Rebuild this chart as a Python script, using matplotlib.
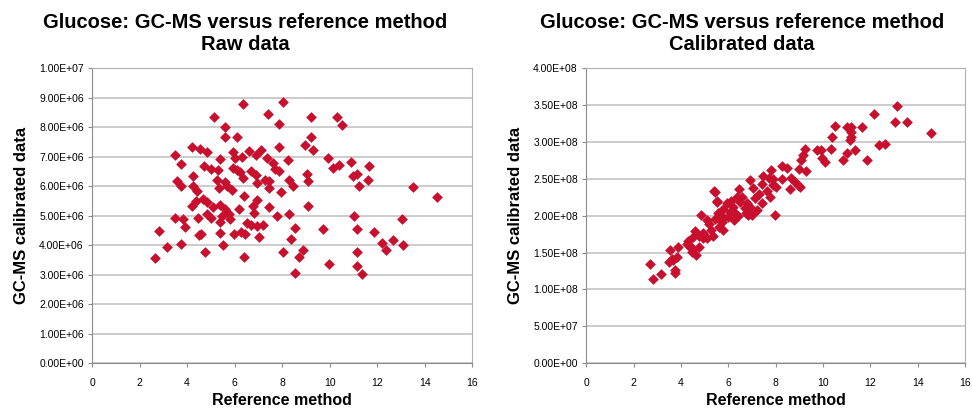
import matplotlib
matplotlib.use('Agg')
import matplotlib.pyplot as plt
from matplotlib.ticker import FuncFormatter, MultipleLocator

plt.rcParams['font.family'] = ['Liberation Sans', 'DejaVu Sans']

# Raw data (GC-MS in units of 1e6)
raw_x = [6.37, 5.14, 7.41, 7.86, 5.61, 5.61, 6.12, 4.21, 4.55, 4.83, 3.48, 5.95, 6.62, 7.13,
         5.39, 6.01, 6.32, 6.91, 7.38, 7.86, 3.76, 4.72, 5.00, 5.31, 5.95, 6.12, 6.23, 6.68,
         6.91, 7.63, 7.72, 7.86, 4.27, 5.25, 5.61, 6.37, 6.93, 7.30, 7.47, 3.56, 3.73, 5.70,
         5.89, 5.33, 4.27, 4.41, 6.40, 6.96, 7.47, 4.38, 4.69, 4.85, 4.21, 5.11, 5.39, 6.76,
         6.20, 5.61, 5.75, 5.47, 4.85, 5.02, 6.82, 4.46, 5.81, 7.44, 7.77, 3.51, 3.82, 5.39,
         6.51, 6.71, 6.93, 7.21, 3.90, 2.83, 5.39, 4.52, 4.60, 5.98, 6.29, 6.43, 7.02, 3.73,
         3.14, 5.53, 4.77, 2.67, 6.40,
         8.03, 9.23, 10.33, 10.53, 9.23, 8.95, 9.32, 8.25, 9.94, 10.13, 10.38, 10.89, 11.68,
         11.00, 11.17, 11.62, 11.23, 9.07, 9.09, 8.28, 8.48, 7.94, 9.09, 8.31, 11.03, 8.56,
         9.74, 11.17, 11.87, 8.39, 12.21, 12.66, 12.38, 8.03, 8.90, 8.70, 11.17, 9.96, 11.17,
         8.56, 11.37, 13.53, 14.54, 13.05, 13.11]
raw_y = [8.80, 8.33, 8.46, 8.10, 7.99, 7.67, 7.67, 7.33, 7.27, 7.15, 7.04, 7.15, 7.19, 7.22,
         6.93, 6.95, 7.00, 7.04, 6.95, 7.31, 6.76, 6.67, 6.58, 6.56, 6.60, 6.56, 6.47, 6.52,
         6.38, 6.80, 6.58, 6.51, 6.36, 6.22, 6.14, 6.26, 6.09, 6.20, 6.18, 6.18, 6.00, 6.02,
         5.88, 5.95, 5.99, 5.85, 5.66, 5.54, 5.92, 5.50, 5.57, 5.46, 5.32, 5.30, 5.36, 5.34,
         5.23, 5.21, 5.07, 5.00, 5.07, 4.92, 5.09, 4.92, 4.88, 5.28, 5.00, 4.92, 4.89, 4.78,
         4.76, 4.69, 4.66, 4.69, 4.60, 4.49, 4.42, 4.33, 4.37, 4.39, 4.44, 4.37, 4.28, 4.05,
         3.92, 3.99, 3.78, 3.56, 3.61,
         8.85, 8.36, 8.33, 8.08, 7.67, 7.40, 7.22, 6.88, 6.95, 6.61, 6.70, 6.81, 6.68,
         6.36, 6.42, 6.22, 6.02, 6.42, 6.18, 6.20, 6.02, 5.80, 5.34, 5.05, 5.00, 4.59,
         4.55, 4.55, 4.44, 4.22, 4.08, 4.17, 3.85, 3.78, 3.83, 3.61, 3.78, 3.36, 3.29,
         3.06, 3.02, 5.96, 5.64, 4.87, 3.99]

# Calibrated data (GC-MS in units of 1e8)
cal_x = [13.11, 12.15, 13.05, 13.53, 14.54, 10.52, 11.03, 11.19, 11.17, 11.17, 11.14, 11.65,
         10.38, 12.35, 12.63, 9.73, 9.90, 10.32, 11.00, 11.34, 10.86, 11.84, 9.23, 9.14, 9.06,
         9.96, 10.10, 8.27, 8.47, 7.82, 8.97, 9.28, 7.48, 6.92, 7.71, 7.90, 7.43, 7.90, 8.27,
         8.66, 8.83, 8.95, 9.03, 8.61, 8.02, 6.44, 7.06, 7.29, 7.62, 7.76, 7.12, 7.43, 7.96,
         6.36, 6.50, 6.78, 6.70, 7.00, 6.84, 5.94, 6.22, 6.27, 6.08, 5.79, 5.65,
         5.46, 5.54, 4.86, 5.79, 5.09, 5.57, 5.74, 6.24, 6.75, 6.92, 7.20, 4.61, 4.78, 4.95,
         5.29, 5.60, 5.79, 5.37, 5.09, 4.30, 4.39, 4.53, 4.64, 4.25, 4.75, 4.92, 3.54, 3.88,
         3.63, 3.49, 3.74, 3.74, 2.70, 3.15, 2.84, 3.83, 3.68, 4.53, 4.33, 4.47, 5.40, 5.51,
         6.00, 6.40, 5.20, 5.45, 6.10, 6.60]
cal_y = [3.48, 3.38, 3.27, 3.27, 3.12, 3.22, 3.20, 3.20, 3.13, 3.06, 3.02, 3.20,
         3.06, 2.96, 2.97, 2.89, 2.89, 2.90, 2.85, 2.89, 2.76, 2.75, 2.91, 2.82, 2.76,
         2.78, 2.73, 2.67, 2.65, 2.62, 2.63, 2.60, 2.54, 2.48, 2.51, 2.49, 2.43, 2.41, 2.49,
         2.51, 2.45, 2.42, 2.39, 2.36, 2.39, 2.36, 2.37, 2.30, 2.33, 2.25, 2.24, 2.17, 2.01,
         2.25, 2.18, 2.17, 2.10, 2.01, 2.01, 2.17, 2.12, 2.03, 2.05, 1.98, 1.94,
         2.32, 2.19, 2.01, 2.09, 1.94, 2.03, 1.91, 1.94, 2.03, 2.12, 2.07, 1.79, 1.73, 1.76,
         1.81, 1.85, 1.81, 1.73, 1.69, 1.66, 1.58, 1.55, 1.47, 1.61, 1.58, 1.69, 1.53, 1.57,
         1.41, 1.37, 1.26, 1.22, 1.34, 1.21, 1.14, 1.44, 1.40, 1.71, 1.60, 1.51, 2.33, 2.20,
         1.98, 2.00, 1.88, 1.95, 2.20, 2.25]

red = '#c8102e'
sci = FuncFormatter(lambda v, pos: '%.2E' % v)

fig = plt.figure(figsize=(9.72, 4.08), dpi=100)
ax1 = fig.add_axes([0.0947, 0.110, 0.391, 0.723])
ax2 = fig.add_axes([0.603, 0.110, 0.390, 0.723])

ax1.scatter(raw_x, [v * 1e6 for v in raw_y], marker='D', s=30, color=red, linewidths=0, zorder=3)
ax2.scatter(cal_x, [v * 1e8 for v in cal_y], marker='D', s=30, color=red, linewidths=0, zorder=3)

ax1.set_ylim(0, 1e7)
ax1.yaxis.set_major_locator(MultipleLocator(1e6))
ax2.set_ylim(0, 4e8)
ax2.yaxis.set_major_locator(MultipleLocator(5e7))

for ax in (ax1, ax2):
    ax.set_xlim(0, 16)
    ax.xaxis.set_major_locator(MultipleLocator(2))
    ax.yaxis.set_major_formatter(sci)
    ax.grid(axis='y', color='#c4c4c4', linewidth=1.2)
    ax.set_axisbelow(True)
    for s in ('top', 'right'):
        ax.spines[s].set_color('#b0b0b0')
    for s in ('left', 'bottom'):
        ax.spines[s].set_color('#8c8c8c')
    ax.tick_params(axis='both', labelsize=7.5, length=3, color='#8c8c8c', pad=3)
    ax.tick_params(axis='x', pad=8)
    ax.set_ylabel('GC-MS calibrated data', fontsize=12, fontweight='bold', labelpad=7)
    ax.set_xlabel('Reference method', fontsize=11.5, fontweight='bold', labelpad=3)

fig.text(0.252, 0.918, 'Glucose: GC-MS versus reference method\nRaw data',
         ha='center', va='center', fontsize=14.5, fontweight='bold', linespacing=1.15)
fig.text(0.763, 0.918, 'Glucose: GC-MS versus reference method\nCalibrated data',
         ha='center', va='center', fontsize=14.5, fontweight='bold', linespacing=1.15)

fig.savefig('out.png', dpi=100)
